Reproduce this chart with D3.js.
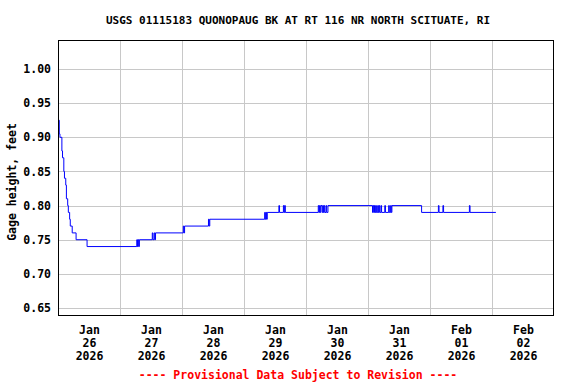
<!DOCTYPE html>
<html><head><meta charset="utf-8">
<script src="https://cdn.jsdelivr.net/npm/d3@7"></script>
<style>body{margin:0;background:#fff}svg{display:block}text{font-family:"DejaVu Sans Mono",monospace;font-weight:bold}</style>
</head><body><svg id="c" width="576" height="384"></svg>
<script>
const title = "USGS 01115183 QUONOPAUG BK AT RT 116 NR NORTH SCITUATE, RI";
const yLabel = "Gage height, feet";
const footer = "---- Provisional Data Subject to Revision ----";
const yTicks = [0.65, 0.70, 0.75, 0.80, 0.85, 0.90, 0.95, 1.00];
const xTickDays = ["2026-01-26","2026-01-27","2026-01-28","2026-01-29","2026-01-30","2026-01-31","2026-02-01","2026-02-02"];
const xTickLabels = [["Jan","26","2026"],["Jan","27","2026"],["Jan","28","2026"],["Jan","29","2026"],["Jan","30","2026"],["Jan","31","2026"],["Feb","01","2026"],["Feb","02","2026"]];
const xDomain = ["2026-01-26T00:00","2026-02-03T00:00"];
const yDomain = [0.6383, 1.0425];
// step change points (time, gage height)
const stepTimes = [
"2026-01-26T00:00","2026-01-26T00:30","2026-01-26T00:45","2026-01-26T01:30","2026-01-26T01:45","2026-01-26T02:15","2026-01-26T02:30","2026-01-26T03:00","2026-01-26T03:15","2026-01-26T03:45","2026-01-26T04:00","2026-01-26T04:30","2026-01-26T04:45","2026-01-26T05:30","2026-01-26T07:00","2026-01-26T11:15",
"2026-01-27T06:30","2026-01-27T06:45","2026-01-27T07:00","2026-01-27T07:15","2026-01-27T07:30",
"2026-01-27T12:30","2026-01-27T12:45","2026-01-27T13:15","2026-01-27T13:30","2026-01-27T13:45",
"2026-01-28T00:30","2026-01-28T00:45","2026-01-28T01:00",
"2026-01-28T10:15","2026-01-28T10:30","2026-01-28T10:45",
"2026-01-29T08:00","2026-01-29T08:15","2026-01-29T08:30","2026-01-29T08:45","2026-01-29T09:00",
"2026-01-29T13:30","2026-01-29T13:45","2026-01-29T15:15","2026-01-29T15:30","2026-01-29T15:45","2026-01-29T16:00",
"2026-01-30T04:45","2026-01-30T05:00","2026-01-30T05:15","2026-01-30T05:30","2026-01-30T05:45","2026-01-30T06:15","2026-01-30T06:30","2026-01-30T06:45","2026-01-30T07:00","2026-01-30T07:15","2026-01-30T07:45","2026-01-30T08:00","2026-01-30T08:30",
"2026-01-31T01:45","2026-01-31T02:00","2026-01-31T02:15","2026-01-31T02:30","2026-01-31T02:45","2026-01-31T03:00","2026-01-31T03:15","2026-01-31T03:45","2026-01-31T04:00","2026-01-31T04:15","2026-01-31T04:30","2026-01-31T05:00","2026-01-31T05:15","2026-01-31T06:30","2026-01-31T06:45","2026-01-31T08:00","2026-01-31T08:15","2026-01-31T08:45","2026-01-31T09:00","2026-01-31T09:15",
"2026-01-31T20:45",
"2026-02-01T03:15","2026-02-01T03:30","2026-02-01T05:00","2026-02-01T05:15","2026-02-01T15:15","2026-02-01T15:30",
"2026-02-02T01:30"];
const stepValues = [
0.925,0.905,0.90,0.88,0.87,0.85,0.84,0.83,0.81,0.80,0.79,0.78,0.77,0.76,0.75,0.74,
0.75,0.74,0.75,0.74,0.75,
0.76,0.75,0.76,0.75,0.76,
0.77,0.76,0.77,
0.78,0.77,0.78,
0.79,0.78,0.79,0.78,0.79,
0.80,0.79,0.80,0.79,0.80,0.79,
0.80,0.79,0.80,0.79,0.80,0.79,0.80,0.79,0.80,0.79,0.80,0.79,0.80,
0.79,0.80,0.79,0.80,0.79,0.80,0.79,0.80,0.79,0.80,0.79,0.80,0.79,0.80,0.79,0.80,0.79,0.80,0.79,0.80,
0.79,
0.80,0.79,0.80,0.79,0.80,0.79,
0.79];

const parse = d3.utcParse("%Y-%m-%dT%H:%M");
const parseDay = d3.utcParse("%Y-%m-%d");
const data = stepTimes.map((t,i)=>({t:parse(t), v:stepValues[i]}));

const L=58, R=554, T=40, B=316;
const svg = d3.select("#c");
const x = d3.scaleUtc().domain(xDomain.map(parse)).range([L,R]);
const y = d3.scaleLinear().domain(yDomain).range([B,T]);

// grid
const gridDays = d3.utcDay.range(parse(xDomain[0]), parse(xDomain[1])).slice(1);
svg.append("g").attr("transform",`translate(0,${B})`)
  .call(d3.axisBottom(x).tickValues(gridDays).tickSize(-(B-T)).tickFormat(""))
  .call(g=>{g.select(".domain").remove(); g.selectAll("line").attr("stroke","#c8c8c8").attr("shape-rendering","crispEdges");});
svg.append("g").attr("transform",`translate(${L},0)`)
  .call(d3.axisLeft(y).tickValues(yTicks).tickSize(-(R-L)).tickFormat(""))
  .call(g=>{g.select(".domain").remove(); g.selectAll("line").attr("stroke","#c8c8c8").attr("shape-rendering","crispEdges");});

// y labels
svg.append("g").attr("transform",`translate(${L},0)`)
  .call(d3.axisLeft(y).tickValues(yTicks).tickSize(0).tickPadding(7).tickFormat(d3.format(".2f")))
  .call(g=>{g.select(".domain").remove(); g.selectAll("text").attr("font-size","11.5px").attr("fill","#000")
    .style("font-family","'DejaVu Sans Mono',monospace").style("font-weight","bold");});

// x labels
const noonTicks = xTickDays.map(d=>d3.utcHour.offset(parseDay(d),12));
const xa = svg.append("g").attr("transform",`translate(0,${B})`)
  .call(d3.axisBottom(x).tickValues(noonTicks).tickSize(0).tickPadding(0).tickFormat(""));
xa.select(".domain").remove();
xa.selectAll(".tick").each(function(d,i){
  const t = d3.select(this).select("text").attr("y",0).attr("dy",null)
    .attr("font-size","11.5px").attr("fill","#000")
    .style("font-family","'DejaVu Sans Mono',monospace").style("font-weight","bold");
  xTickLabels[i].forEach((s,j)=>t.append("tspan").attr("x",0).attr("y",18+j*13).text(s));
});

// line
const line = d3.line().x(d=>x(d.t)).y(d=>y(d.v)).curve(d3.curveStepAfter);
svg.append("path").datum(data).attr("d",line).attr("fill","none").attr("stroke","#0000ff").attr("stroke-width",1);

// frame
svg.append("rect").attr("x",L+0.5).attr("y",T+0.5).attr("width",R-L-1).attr("height",B-T-1)
  .attr("fill","none").attr("stroke","#000").attr("stroke-width",1).attr("shape-rendering","crispEdges");

// title
svg.append("text").attr("x",298).attr("y",24).attr("text-anchor","middle").attr("font-size","11px").text(title);
// y axis label
svg.append("text").attr("transform","translate(16,182) rotate(-90)").attr("text-anchor","middle").attr("font-size","11.5px").text(yLabel);
// footer
svg.append("text").attr("x",298).attr("y",379).attr("text-anchor","middle").attr("font-size","11.5px").attr("fill","#ff0000").text(footer);
</script></body></html>
